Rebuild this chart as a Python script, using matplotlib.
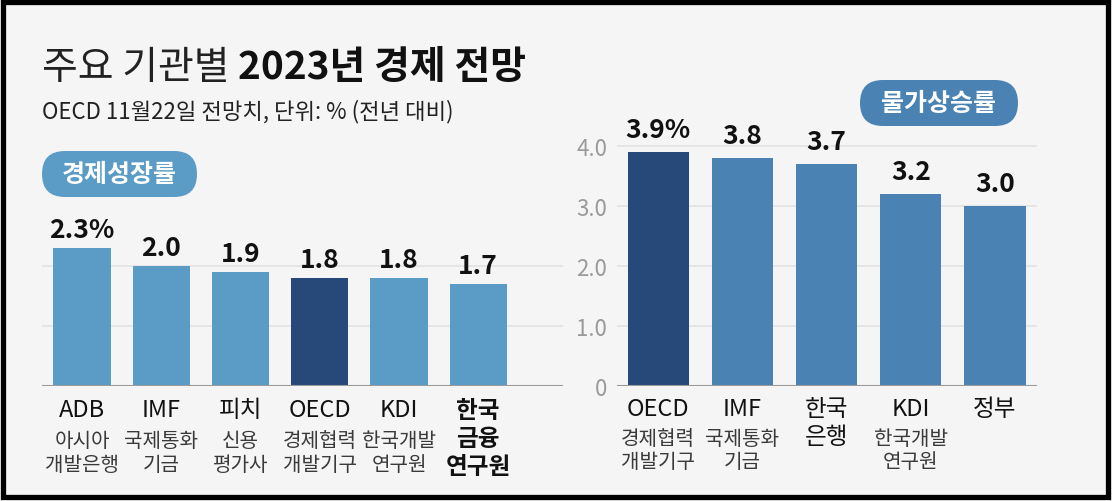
import matplotlib
matplotlib.use("Agg")
import matplotlib.pyplot as plt
from matplotlib.patches import FancyBboxPatch, Rectangle

plt.rcParams['font.family'] = ['Noto Sans CJK KR', 'DejaVu Sans']

# ---- data ----
growth_main = ["ADB", "IMF", "피치", "OECD", "KDI", "한국"]
growth_sub = [["아시아", "개발은행"], ["국제통화", "기금"], ["신용", "평가사"],
              ["경제협력", "개발기구"], ["한국개발", "연구원"], ["금융", "연구원"]]
growth_vals = [2.3, 2.0, 1.9, 1.8, 1.8, 1.7]
growth_labels = ["2.3%", "2.0", "1.9", "1.8", "1.8", "1.7"]

infl_main = ["OECD", "IMF", "한국", "KDI", "정부"]
infl_sub = [["경제협력", "개발기구"], ["국제통화", "기금"], ["은행"],
            ["한국개발", "연구원"], []]
infl_vals = [3.9, 3.8, 3.7, 3.2, 3.0]
infl_labels = ["3.9%", "3.8", "3.7", "3.2", "3.0"]
infl_ticks = [0, 1, 2, 3, 4]
infl_ticklabels = ["0", "1.0", "2.0", "3.0", "4.0"]

W, H = 1112, 502
BG = "#f5f5f5"
LIGHT = "#5a9cc6"
DARK = "#27497a"
MID = "#4a83b3"

fig = plt.figure(figsize=(W / 100, H / 100), dpi=100)
fig.patch.set_facecolor(BG)

# overlay axes in pixel coordinates
ov = fig.add_axes([0, 0, 1, 1])
ov.set_xlim(0, W)
ov.set_ylim(H, 0)
ov.axis("off")

# border
ov.add_patch(Rectangle((2.5, 2.5), 1105, 495, fill=False, edgecolor="black", lw=3.8))

# title
t1 = ov.text(42, 68, "주요 기관별", fontsize=28, fontweight="light", color="#222222",
             va="center", ha="left")
fig.canvas.draw()
bb = t1.get_window_extent(renderer=fig.canvas.get_renderer())
x_after = bb.x1 + 8
ov.text(x_after, 68, "2023년 경제 전망", fontsize=28, fontweight="bold", color="#111111",
        va="center", ha="left")
ov.text(42, 112, "OECD 11월22일 전망치, 단위: % (전년 대비)", fontsize=16,
        color="#222222", va="center", ha="left")

# pills
def pill(x0, y0, x1, y1, color, text):
    r = (y1 - y0) / 2
    ov.add_patch(FancyBboxPatch((x0, y0), x1 - x0, y1 - y0,
                                boxstyle=f"round,pad=0,rounding_size={r}",
                                facecolor=color, edgecolor="none"))
    ov.text((x0 + x1) / 2, (y0 + y1) / 2, text, fontsize=18, fontweight="bold",
            color="white", ha="center", va="center")

pill(42, 152, 197, 198, LIGHT, "경제성장률")
pill(860, 81, 1018, 127, MID, "물가상승률")

YMAX = 4.35
ax_h = YMAX * 60 / H
base_y = 1 - 387 / H

# left axes
axL = fig.add_axes([42 / W, base_y, 521 / W, ax_h])
axL.patch.set_alpha(0)
axL.set_ylim(0, YMAX)
axL.set_xlim(-0.505, 6.07)
colsL = [LIGHT, LIGHT, LIGHT, DARK, LIGHT, LIGHT]
xl = list(range(len(growth_vals)))
axL.bar(xl, growth_vals, width=0.72, color=colsL, zorder=2)
for y in [1, 2]:
    axL.axhline(y, color="#e2e2e2", lw=1.2, zorder=1)
axL.axhline(0, color="#9a9a9a", lw=1.5, zorder=3)
for s in axL.spines.values():
    s.set_visible(False)
axL.set_xticks([])
axL.set_yticks([])
for i, v in enumerate(growth_vals):
    axL.annotate(growth_labels[i], (i, v), xytext=(0, 5), textcoords="offset pixels",
                 ha="center", va="bottom", fontsize=19, fontweight="bold", color="#111111")

def cat_labels(ax, mains, subs, bold_last=False):
    for i, m in enumerate(mains):
        special = bold_last and i == len(mains) - 1
        ax.annotate(m, (i, 0), xytext=(0, -24), textcoords="offset pixels",
                    ha="center", va="center", fontsize=17,
                    fontweight="bold" if special else "normal", color="#111111")
        for j, s in enumerate(subs[i]):
            if special:
                ax.annotate(s, (i, 0), xytext=(0, -24 - 28 * (j + 1)), textcoords="offset pixels",
                            ha="center", va="center", fontsize=17, fontweight="bold",
                            color="#111111")
            else:
                ax.annotate(s, (i, 0), xytext=(0, -55 - 24 * j), textcoords="offset pixels",
                            ha="center", va="center", fontsize=14.5, fontweight="light",
                            color="#3a3a3a")

cat_labels(axL, growth_main, growth_sub, bold_last=True)

# right axes
axR = fig.add_axes([617 / W, base_y, 420 / W, ax_h])
axR.patch.set_alpha(0)
axR.set_ylim(0, YMAX)
axR.set_xlim(-0.49, 4.5)
colsR = [DARK, MID, MID, MID, MID]
xr = list(range(len(infl_vals)))
axR.bar(xr, infl_vals, width=0.73, color=colsR, zorder=2)
for y in [1, 2, 3, 4]:
    axR.axhline(y, color="#e2e2e2", lw=1.2, zorder=1)
axR.axhline(0, color="#9a9a9a", lw=1.5, zorder=3)
for s in axR.spines.values():
    s.set_visible(False)
axR.set_xticks([])
axR.set_yticks(infl_ticks)
axR.set_yticklabels(infl_ticklabels, fontsize=16, fontweight="light", color="#9a9a9a")
axR.tick_params(axis="y", length=0, pad=7)
for i, v in enumerate(infl_vals):
    axR.annotate(infl_labels[i], (i, v), xytext=(0, 9), textcoords="offset pixels",
                 ha="center", va="bottom", fontsize=19, fontweight="bold", color="#111111")

for i, m in enumerate(infl_main):
    medium = m in ("한국", "정부")
    axR.annotate(m, (i, 0), xytext=(0, -23), textcoords="offset pixels",
                 ha="center", va="center", fontsize=17,
                 fontweight="medium" if medium else "normal", color="#111111")
    for j, s in enumerate(infl_sub[i]):
        if medium:
            axR.annotate(s, (i, 0), xytext=(0, -51), textcoords="offset pixels",
                         ha="center", va="center", fontsize=17, fontweight="medium",
                         color="#111111")
        else:
            axR.annotate(s, (i, 0), xytext=(0, -53 - 23 * j), textcoords="offset pixels",
                         ha="center", va="center", fontsize=14.5, fontweight="light",
                         color="#3a3a3a")

fig.savefig("out.png", dpi=100, facecolor=BG)
